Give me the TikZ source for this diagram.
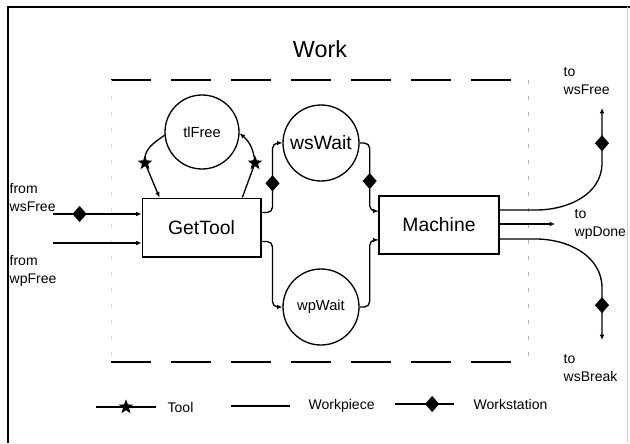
\documentclass[tikz,border=0pt]{standalone}
\usepackage{fontspec}
\setmainfont{Liberation Sans}
\usetikzlibrary{shapes.geometric,arrows.meta,calc}

\begin{document}
\begin{tikzpicture}[
    x=0.75pt, y=-0.75pt,
    line width=1pt,
    placeNode/.style={
        circle, draw=black, line width=1pt, inner sep=0pt, minimum size=57pt
    },
    transBox/.style={
        rectangle, draw=black, line width=1pt, minimum width=89pt, minimum height=44pt,
        font=\fontsize{14.5}{17}\selectfont
    },
    flow/.style={
        -{Latex[length=4pt, width=3.5pt]}, line width=1pt, draw=black
    },
    wsMark/.style={
        diamond, sharp corners, fill=black, inner sep=0pt, minimum width=11pt, minimum height=12.5pt
    },
    toolMark/.style={
        star, sharp corners, star points=5, star point ratio=2.4, fill=black, inner sep=0pt, minimum size=11.5pt
    },
    lblTxt/.style={
        font=\fontsize{10.5}{13.5}\selectfont, align=left, anchor=west, inner sep=0pt
    },
    boundLine/.style={
        line width=1.2pt, dash pattern=on 30pt off 15pt
    }
]
\useasboundingbox (0,0) rectangle (630,443);

% Frame
\draw[line width=2pt] (8,443) -- (8,7) -- (630,7);
\draw[gray!40, line width=0.5pt] (627,7) -- (627,443);

% Work boundary
\node[font=\fontsize{17.5}{20}\selectfont] (title) at (320,49) {Work};
\draw[boundLine] (111,80) -- (528,80);
\draw[boundLine] (111,362) -- (528,362);
\draw[gray!60, line width=0.6pt, dash pattern=on 3pt off 9pt] (528,80) -- (528,362);
\draw[gray!25, line width=0.6pt, dash pattern=on 3pt off 9pt] (111,80) -- (111,362);

% Places and transitions
\node[placeNode, minimum size=55.5pt, font=\fontsize{11}{13}\selectfont] (tlFree) at (202,132) {tlFree};
\node[transBox] (getTool) at (201.5,227.5) {GetTool};
\node[placeNode, font=\fontsize{14.5}{17}\selectfont] (wsWait) at (321,143) {wsWait};
\node[placeNode, font=\fontsize{11}{13}\selectfont] (wpWait) at (321,307) {wpWait};
\node[transBox, minimum width=90pt, minimum height=43.5pt] (machine) at (439,225) {Machine};

% Port labels
\node[lblTxt] (fromWs) at (9,197) {from\\wsFree};
\node[lblTxt] (fromWp) at (9,271) {from\\wpFree};
\node[lblTxt] (toWs) at (563,81.5) {to\\wsFree};
\node[lblTxt] (toDone) at (574,224) {to\\wpDone};
\node[lblTxt] (toBreak) at (563,368) {to\\wsBreak};

% Inputs
\coordinate (wsIn) at (53,214);
\coordinate (wpIn) at (53,243);
\draw[flow] (wsIn) -- node[wsMark, pos=0.3] {} (wsIn -| getTool.west);
\draw[flow] (wpIn) -- (wpIn -| getTool.west);

% Tool loop
\coordinate (starL) at (145,163);
\coordinate (starR) at (255,163);
\draw[flow] (tlFree.185) to[out=215, in=100] (starL) -- ($(getTool.north west)!0.15!(getTool.north east)$);
\draw[flow] ($(getTool.north west)!0.84!(getTool.north east)$) -- (starR) to[out=95, in=-40] (tlFree.358);
\node[toolMark] (tkL) at (starL) {};
\node[toolMark] (tkR) at (starR) {};

% GetTool -> waiting places
\draw[flow, rounded corners=4pt] ($(getTool.east)+(0,-15)$) -- ++(11,0) |- node[wsMark, pos=0.21] {} (wsWait.west);
\draw[flow, rounded corners=4pt] ($(getTool.east)+(0,14)$) -- ++(11,0) |- (wpWait.west);

% waiting places -> Machine
\draw[flow, rounded corners=4pt] (wsWait.east) -- ++(10,0) |- node[wsMark, pos=0.28] {} ($(machine.west)+(0,-14)$);
\draw[flow, rounded corners=4pt] (wpWait.east) -- ++(10,0) |- ($(machine.west)+(0,15)$);

% Outputs
\coordinate (wsOut) at (602,108);
\coordinate (doneOut) at (555,224);
\coordinate (breakOut) at (602,340);
\draw[flow] ($(machine.east)+(0,-15)$) -- ++(36,0) to[out=0, in=-90] ($(wsOut)+(0,55)$)
    -- node[wsMark, pos=0.36] {} (wsOut);
\draw[flow] (machine.east |- doneOut) -- (doneOut);
\draw[flow] ($(machine.east)+(0,14)$) -- ++(36,0) to[out=0, in=90] ($(breakOut)+(0,-52)$)
    -- node[wsMark, pos=0.33] {} (breakOut);

% Legend
\node[lblTxt] (lgTool) at (167,407) {Tool};
\node[lblTxt] (lgWp) at (308,406) {Workpiece};
\node[lblTxt] (lgWs) at (473,404) {Workstation};
\draw ($(lgTool.west)+(-71,0)$) -- node[toolMark] {} ($(lgTool.west)+(-11,0)$);
\draw ($(lgWp.west)+(-77,0)$) -- ($(lgWp.west)+(-18,0)$);
\draw ($(lgWs.west)+(-78,0)$) -- node[wsMark, pos=0.63] {} ($(lgWs.west)+(-19,0)$);

\end{tikzpicture}
\end{document}
